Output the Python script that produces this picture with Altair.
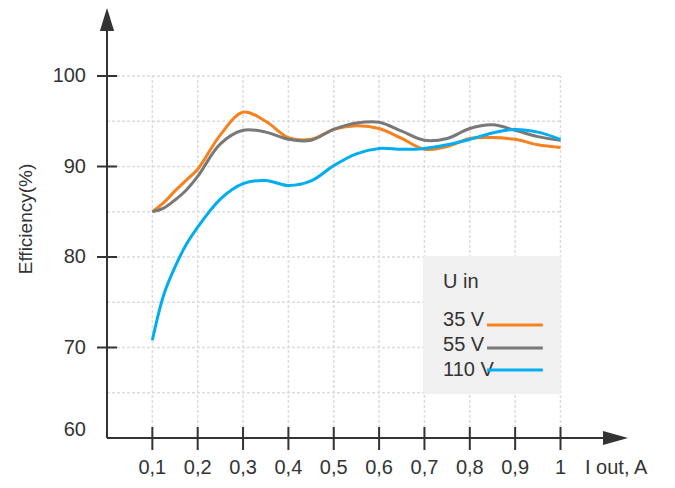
import altair as alt
import pandas as pd

# ---------------- data ----------------
x_vals = [0.1, 0.125, 0.15, 0.175, 0.2, 0.25, 0.3, 0.35, 0.4, 0.45, 0.5, 0.55,
          0.6, 0.65, 0.7, 0.75, 0.8, 0.85, 0.9, 0.95, 1.0]
eff_35 = [85.0, 86.0, 87.3, 88.5, 89.7, 93.5, 96.0, 95.0, 93.2, 93.0, 94.1, 94.5,
          94.2, 93.1, 91.9, 92.2, 93.1, 93.2, 93.0, 92.4, 92.1]
eff_55 = [85.0, 85.4, 86.3, 87.4, 88.9, 92.5, 94.0, 93.8, 93.0, 92.9, 94.1, 94.8,
          94.9, 93.9, 92.9, 93.1, 94.2, 94.6, 94.0, 93.3, 92.9]
eff_110 = [70.8, 75.8, 78.9, 81.4, 83.3, 86.4, 88.1, 88.45, 87.9, 88.4, 90.1, 91.4,
           92.0, 91.9, 92.0, 92.4, 93.0, 93.7, 94.1, 93.8, 93.0]
series_names = ["35 V", "55 V", "110 V"]
series_colors = ["#f5821f", "#787878", "#00aeef"]

x_ticks = [0.1, 0.2, 0.3, 0.4, 0.5, 0.6, 0.7, 0.8, 0.9, 1.0]
x_tick_labels = ["0,1", "0,2", "0,3", "0,4", "0,5", "0,6", "0,7", "0,8", "0,9", "1"]
y_ticks = [70, 80, 90, 100]
y_tick_labels = ["70", "80", "90", "100"]
y_grid = [65, 70, 75, 80, 85, 90, 95, 100]
x_title = "I out, A"
y_title = "Efficiency(%)"
legend_title = "U in"

# ---------------- geometry ----------------
PX_X = 453.5   # pixels per unit of current
PX_Y = 9.05    # pixels per percent
W, H = 520, 430
Y0 = 60
xs = alt.Scale(domain=[0, W / PX_X], nice=False, zero=False)
ys = alt.Scale(domain=[Y0, Y0 + H / PX_Y], nice=False, zero=False)

def px_x(p):
    return p / PX_X

def px_y(p):
    return p / PX_Y

FONT = "Liberation Sans"
TXT = "#333333"
AX = "#333333"

def X(f):
    return alt.X(f, type="quantitative", scale=xs, axis=None)

def Y(f):
    return alt.Y(f, type="quantitative", scale=ys, axis=None)

# ---------------- grid ----------------
hgrid = pd.DataFrame({"x0": [0.0] * len(y_grid), "x1": [1.0] * len(y_grid), "y": y_grid})
vgrid = pd.DataFrame({"x": x_ticks, "y0": [Y0] * len(x_ticks), "y1": [100] * len(x_ticks)})
grid_h = alt.Chart(hgrid).mark_rule(color="#dcdcdc", strokeWidth=1.5, strokeDash=[3, 2]).encode(
    x=X("x0"), x2="x1", y=Y("y"))
grid_v = alt.Chart(vgrid).mark_rule(color="#dcdcdc", strokeWidth=1.5, strokeDash=[3, 2]).encode(
    x=X("x"), y=Y("y0"), y2="y1")

# ---------------- legend box ----------------
lbox = pd.DataFrame({"x0": [0.697], "x1": [1.0], "y0": [64.86], "y1": [80.1]})
legend_box = alt.Chart(lbox).mark_rect(color="#f0f0f0").encode(
    x=X("x0"), x2="x1", y=Y("y0"), y2="y1")

# ---------------- curves ----------------
rows = []
for name, vals in zip(series_names, [eff_35, eff_55, eff_110]):
    for xv, v in zip(x_vals, vals):
        rows.append({"x": xv, "eff": v, "series": name})
df = pd.DataFrame(rows)
color_scale = alt.Scale(domain=series_names, range=series_colors)
curves = alt.Chart(df).mark_line(interpolate="catmull-rom", strokeWidth=3).encode(
    x=X("x"), y=Y("eff"),
    color=alt.Color("series:N", scale=color_scale, legend=None),
    order=alt.Order("x:Q"),
)

# ---------------- axes ----------------
x_axis_end = px_x(603 - 107)
y_axis_end = Y0 + px_y(438 - 31)
axis_lines = pd.DataFrame({
    "x0": [0.0, 0.0], "x1": [x_axis_end, 0.0],
    "y0": [Y0, Y0], "y1": [Y0, y_axis_end]})
axes = alt.Chart(axis_lines).mark_rule(color=AX, strokeWidth=2).encode(
    x=X("x0"), x2="x1", y=Y("y0"), y2="y1")

xt = pd.DataFrame({"x": x_ticks, "y0": [Y0 - px_y(12)] * len(x_ticks), "y1": [Y0 + px_y(11)] * len(x_ticks)})
x_tick_marks = alt.Chart(xt).mark_rule(color=AX, strokeWidth=2).encode(
    x=X("x"), y=Y("y0"), y2="y1")
yt = pd.DataFrame({"y": y_ticks, "x0": [-px_x(10)] * len(y_ticks), "x1": [px_x(10)] * len(y_ticks)})
y_tick_marks = alt.Chart(yt).mark_rule(color=AX, strokeWidth=2).encode(
    x=X("x0"), x2="x1", y=Y("y"))

arrows_df = pd.DataFrame({
    "x": [0.0, px_x(615.5 - 107)],
    "y": [Y0 + px_y(438 - 19.5), Y0],
    "shape": ["M0,-1L0.62,1L-0.62,1Z", "M1,0L-1,0.56L-1,-0.56Z"],
    "size": [529, 625],
})
arrows = alt.Chart(arrows_df).mark_point(filled=True, opacity=1, color=AX, strokeWidth=0).encode(
    x=X("x"), y=Y("y"),
    shape=alt.Shape("shape:N", scale=None, legend=None),
    size=alt.Size("size:Q", scale=None, legend=None),
)

# ---------------- labels ----------------
xl = pd.DataFrame({"x": x_ticks, "label": x_tick_labels, "y": [Y0 - px_y(30)] * len(x_ticks)})
x_labels = alt.Chart(xl).mark_text(font=FONT, fontSize=20, color=TXT, align="center", baseline="middle").encode(
    x=X("x"), y=Y("y"), text="label:N")
yl = pd.DataFrame({"y": y_ticks, "label": y_tick_labels, "x": [-px_x(21)] * len(y_ticks)})
y_labels = alt.Chart(yl).mark_text(font=FONT, fontSize=20, color=TXT, align="right", baseline="middle").encode(
    x=X("x"), y=Y("y"), text="label:N")
y60 = pd.DataFrame({"y": [Y0 + px_y(8)], "label": ["60"], "x": [-px_x(21)]})
y_label60 = alt.Chart(y60).mark_text(font=FONT, fontSize=20, color=TXT, align="right", baseline="middle").encode(
    x=X("x"), y=Y("y"), text="label:N")

xtitle_df = pd.DataFrame({"x": [px_x(585 - 107)], "y": [Y0 - px_y(30)], "t": [x_title]})
x_title_mark = alt.Chart(xtitle_df).mark_text(font=FONT, fontSize=20, color=TXT, align="left", baseline="middle").encode(
    x=X("x"), y=Y("y"), text="t:N")
ytitle_df = pd.DataFrame({"x": [px_x(26 - 107)], "y": [Y0 + px_y(438 - 219)], "t": [y_title]})
y_title_mark = alt.Chart(ytitle_df).mark_text(font=FONT, fontSize=19, color=TXT, align="center", baseline="middle", angle=270).encode(
    x=X("x"), y=Y("y"), text="t:N")

# ---------------- legend contents ----------------
lt = pd.DataFrame({
    "x": [0.741] * 4,
    "y": [77.24, 73.04, 70.28, 67.51],
    "t": [legend_title] + series_names,
})
legend_text = alt.Chart(lt).mark_text(font=FONT, fontSize=20, color=TXT, align="left", baseline="middle").encode(
    x=X("x"), y=Y("y"), text="t:N")
ll = pd.DataFrame({
    "x0": [0.838] * 3, "x1": [0.961] * 3,
    "y": [72.49, 69.94, 67.51], "series": series_names,
})
legend_lines = alt.Chart(ll).mark_rule(strokeWidth=3).encode(
    x=X("x0"), x2="x1", y=Y("y"),
    color=alt.Color("series:N", scale=color_scale, legend=None))

chart = alt.layer(
    grid_h, grid_v, legend_box, curves, axes, x_tick_marks, y_tick_marks, arrows,
    x_labels, y_labels, y_label60, x_title_mark, y_title_mark, legend_text, legend_lines,
).properties(
    width=W, height=H,
    autosize=alt.AutoSizeParams(type="none"),
    padding={"left": 99, "top": 0, "right": 36, "bottom": 42},
    background="white",
).configure_view(stroke=None)

chart.save("out.html", embed_options={"renderer": "svg", "actions": False})
